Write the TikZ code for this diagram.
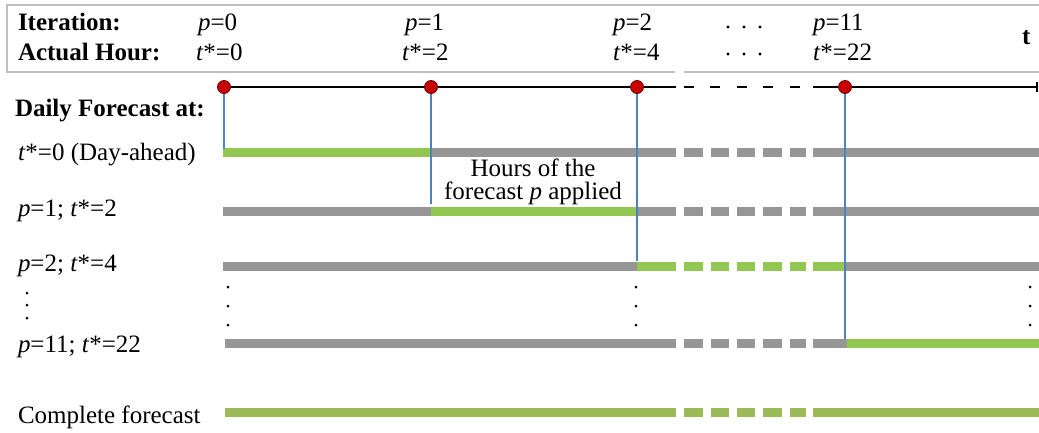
\documentclass[tikz,border=0pt]{standalone}
\usepackage{fontspec}
\setmainfont{Liberation Serif}
\definecolor{fgreen}{RGB}{146,200,82}
\definecolor{cgreen}{RGB}{155,187,89}
\definecolor{fgray}{RGB}{150,150,150}
\definecolor{fblue}{RGB}{79,129,189}
\definecolor{fred}{RGB}{200,0,0}
\definecolor{boxgray}{RGB}{191,191,191}
\newcommand{\seg}[4]{\fill[#4] (#2,#1-4.5) rectangle (#3,#1+4.5);}
\newcommand{\dashsegs}[2]{\foreach \a/\b in {684/703,711/729,737/755,763/782,790/806}{\fill[#2] (\a,#1-4.5) rectangle (\b,#1+4.5);}}
\begin{document}
\begin{tikzpicture}[x=1pt,y=-1pt,
  every node/.style={inner sep=0pt,outer sep=0pt},
  lbl/.style={anchor=base west,font=\fontsize{25}{30}\selectfont},
  blbl/.style={anchor=base west,font=\fontsize{25}{30}\selectfont\bfseries},
  tline/.style={line width=1.4pt,black},
  vline/.style={line width=1.4pt,fblue},
  dot/.style={circle,fill=black,minimum size=3.4pt},
  redpt/.style={circle,fill=fred,draw=black!60!red,line width=0.8pt,minimum size=13pt}]
\useasboundingbox (0,0) rectangle (1039,432);
% header frame
\draw[boxgray,line width=1.3pt] (1039,5) -- (7,5) -- (7,72) -- (675,72);
\draw[boxgray,line width=1.3pt] (684,72) -- (1039,72);
% header texts
\node[blbl] (it) at (18,30) {Iteration:};
\node[blbl] (ah) at (18,60) {Actual Hour:};
\node[lbl] (p0) at (198,30) {\textit{p}=0};
\node[lbl] (t0) at (196,60) {\textit{t}*=0};
\node[lbl] (p1) at (405,30) {\textit{p}=1};
\node[lbl] (t1) at (402,60) {\textit{t}*=2};
\node[lbl] (p2) at (613,30) {\textit{p}=2};
\node[lbl] (t2) at (613,60) {\textit{t}*=4};
\node[lbl] (p11) at (813,30) {\textit{p}=11};
\node[lbl] (t11) at (813,60) {\textit{t}*=22};
\node[blbl] (tt) at (1022,44) {t};
\foreach \xx in {728,744,760}{
  \node[dot] (hd1\xx) at (\xx,27) {};
  \node[dot] (hd2\xx) at (\xx,54) {};
}
% left labels
\node[blbl] (dfa) at (15,116) {Daily Forecast at:};
\node[lbl] (l0) at (18,160) {\textit{t}*=0 (Day-ahead)};
\node[lbl] (l1) at (18,216) {\textit{p}=1; \textit{t}*=2};
\node[lbl] (l2) at (18,271) {\textit{p}=2; \textit{t}*=4};
\node[lbl] (l11) at (18,352) {\textit{p}=11; \textit{t}*=22};
\node[lbl] (lc) at (18,423) {Complete forecast};
\foreach \yy in {293,305,318}{\node[dot,minimum size=3pt] (ld\yy) at (27,\yy) {};}
% column dots
\foreach \xx in {228,636,1030}{
  \foreach \yy in {287,306,325}{\node[dot,minimum size=3pt] (cd\xx\yy) at (\xx,\yy) {};}
}
% bars row 1
\seg{152}{223}{430}{fgreen}
\seg{152}{430}{676}{fgray}
\dashsegs{152}{fgray}
\seg{152}{813}{1039}{fgray}
% row 2
\seg{211}{223}{431}{fgray}
\seg{211}{431}{638}{fgreen}
\seg{211}{638}{676}{fgray}
\dashsegs{211}{fgray}
\seg{211}{813}{1039}{fgray}
% row 3
\seg{266}{223}{637}{fgray}
\seg{266}{637}{676}{fgreen}
\dashsegs{266}{fgreen}
\seg{266}{813}{845}{fgreen}
\seg{266}{845}{1039}{fgray}
% row 4
\seg{343}{225}{676}{fgray}
\dashsegs{343}{fgray}
\seg{343}{813}{847}{fgray}
\seg{343}{847}{1039}{fgreen}
% complete
\seg{412}{225}{676}{cgreen}
\dashsegs{412}{cgreen}
\seg{412}{813}{1039}{cgreen}
% annotation
\node[align=center,anchor=north,font=\fontsize{25}{23}\selectfont] (hrs) at (533,159) {Hours of the\\forecast \textit{p} applied};
% circles (positions)
\coordinate (c0p) at (224,87);
\coordinate (c1p) at (431,87);
\coordinate (c2p) at (637,87);
\coordinate (c3p) at (845,87);
\coordinate (e0) at (224,149);
\coordinate (e1) at (431,204);
\coordinate (e2) at (637,261);
\coordinate (e3) at (845,339);
\draw[vline] (c0p) -- (e0);
\draw[vline] (c1p) -- (e1);
\draw[vline] (c2p) -- (e2);
\draw[vline] (c3p) -- (e3);
% timeline
\coordinate (g1) at (676,87);
\coordinate (g2) at (684,87);
\coordinate (g3) at (806,87);
\coordinate (g4) at (813,87);
\coordinate (tend) at (1037,87);
\coordinate (tb1) at (1037,82);
\coordinate (tb2) at (1037,92);
\draw[tline] (c0p) -- (g1);
\draw[tline,dash pattern=on 10pt off 16.4pt] (g2) -- (g3);
\draw[tline] (g4) -- (tend);
\draw[tline] (tb1) -- (tb2);
\node[redpt] (c0) at (c0p) {};
\node[redpt] (c1) at (c1p) {};
\node[redpt] (c2) at (c2p) {};
\node[redpt] (c3) at (c3p) {};
\end{tikzpicture}
\end{document}
